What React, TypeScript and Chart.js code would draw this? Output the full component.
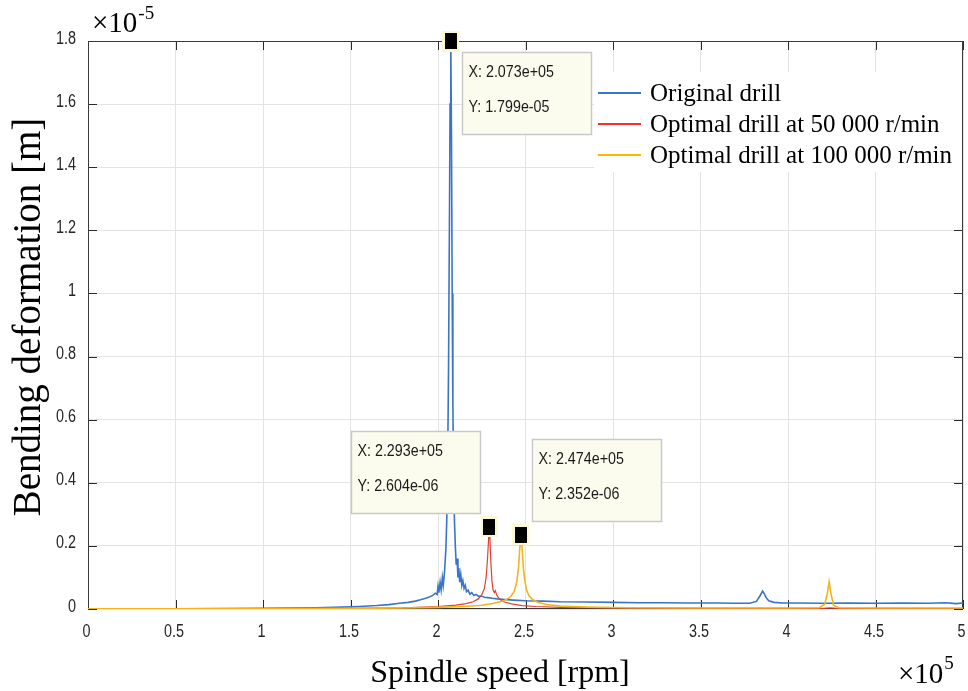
import React, { useEffect, useRef } from "react";
import { Chart, registerables } from "chart.js";

Chart.register(...registerables);

// x in units of 1e5 rpm, y in units of 1e-5 m
const originalX = [0, 0.5, 1.0, 1.15, 1.3, 1.45, 1.55, 1.65, 1.72, 1.78, 1.83, 1.87, 1.9, 1.93, 1.95, 1.97, 1.985, 1.995, 2.0, 2.005, 2.012, 2.018, 2.025, 2.03, 2.037, 2.045, 2.05, 2.055, 2.06, 2.065, 2.069, 2.073, 2.077, 2.081, 2.085, 2.089, 2.094, 2.099, 2.104, 2.109, 2.114, 2.119, 2.124, 2.13, 2.136, 2.142, 2.149, 2.156, 2.163, 2.172, 2.182, 2.193, 2.205, 2.218, 2.232, 2.248, 2.265, 2.285, 2.31, 2.34, 2.38, 2.43, 2.5, 2.6, 2.7, 2.85, 3.0, 3.15, 3.3, 3.45, 3.6, 3.7, 3.78, 3.82, 3.84, 3.855, 3.865, 3.875, 3.89, 3.92, 3.97, 4.05, 4.2, 4.35, 4.5, 4.65, 4.8, 4.9, 4.96, 5.0];
const originalY = [0.0005, 0.001, 0.002, 0.003, 0.004, 0.006, 0.008, 0.011, 0.014, 0.018, 0.021, 0.025, 0.029, 0.034, 0.038, 0.043, 0.05, 0.046, 0.072, 0.052, 0.085, 0.06, 0.1, 0.075, 0.115, 0.19, 0.28, 0.45, 0.75, 1.2, 1.6, 1.799, 1.5, 1.0, 0.65, 0.42, 0.28, 0.2, 0.14, 0.16, 0.1, 0.13, 0.085, 0.11, 0.075, 0.09, 0.065, 0.075, 0.055, 0.06, 0.047, 0.052, 0.043, 0.046, 0.04, 0.041, 0.037, 0.036, 0.034, 0.032, 0.03, 0.028, 0.026, 0.025, 0.023, 0.022, 0.021, 0.02, 0.02, 0.019, 0.019, 0.018, 0.018, 0.024, 0.042, 0.057, 0.048, 0.036, 0.026, 0.021, 0.019, 0.019, 0.018, 0.019, 0.018, 0.019, 0.018, 0.02, 0.017, 0.019];

const opt50X = [0, 0.5, 1.0, 1.5, 1.8, 2.0, 2.1, 2.16, 2.2, 2.23, 2.25, 2.265, 2.275, 2.283, 2.289, 2.293, 2.297, 2.302, 2.308, 2.315, 2.322, 2.328, 2.335, 2.345, 2.36, 2.38, 2.42, 2.48, 2.56, 2.7, 2.9, 3.2, 3.6, 4.0, 4.2, 4.24, 4.28, 4.6, 5.0];
const opt50Y = [0.0002, 0.0004, 0.0008, 0.002, 0.004, 0.008, 0.012, 0.017, 0.023, 0.032, 0.045, 0.065, 0.1, 0.16, 0.22, 0.2604, 0.22, 0.15, 0.09, 0.06, 0.052, 0.058, 0.045, 0.036, 0.028, 0.022, 0.016, 0.011, 0.008, 0.005, 0.004, 0.003, 0.002, 0.002, 0.002, 0.004, 0.002, 0.002, 0.001];

const opt100X = [0, 0.5, 1.0, 1.5, 1.8, 2.0, 2.15, 2.25, 2.32, 2.37, 2.41, 2.435, 2.45, 2.46, 2.467, 2.474, 2.481, 2.488, 2.496, 2.506, 2.52, 2.54, 2.57, 2.62, 2.7, 2.85, 3.1, 3.5, 4.0, 4.18, 4.21, 4.225, 4.235, 4.245, 4.26, 4.29, 4.5, 5.0];
const opt100Y = [0.0006, 0.0008, 0.001, 0.002, 0.003, 0.005, 0.008, 0.012, 0.018, 0.025, 0.036, 0.055, 0.085, 0.13, 0.19, 0.2352, 0.19, 0.13, 0.09, 0.06, 0.042, 0.03, 0.021, 0.014, 0.009, 0.006, 0.004, 0.003, 0.003, 0.004, 0.015, 0.05, 0.086, 0.05, 0.012, 0.004, 0.003, 0.003];

const seriesLabels = ["Original drill", "Optimal drill at 50 000 r/min", "Optimal drill at 100 000 r/min"];
const seriesColors = ["#3a74c8", "#e2412f", "#f2b51a"];
const legendColors = ["#3a74c8", "#ff2a2a", "#ffb600"];

const xTicks = [0, 0.5, 1, 1.5, 2, 2.5, 3, 3.5, 4, 4.5, 5];
const yTicks = [0, 0.2, 0.4, 0.6, 0.8, 1, 1.2, 1.4, 1.6, 1.8];

const xTitle = "Spindle speed [rpm]";
const yTitle = "Bending deformation [m]";
const xExponent = "5";
const yExponent = "-5";

const tipX = [2.073, 2.293, 2.474];
const tipY = [1.799, 0.2604, 0.2352];
const tipXText = ["X: 2.073e+05", "X: 2.293e+05", "X: 2.474e+05"];
const tipYText = ["Y: 1.799e-05", "Y: 2.604e-06", "Y: 2.352e-06"];
const tipPlacement = ["down-right", "up-left", "up-right"];

const SERIF = "'Liberation Serif', 'Times New Roman', serif";
const SANS = "'Liberation Sans', Arial, sans-serif";

const fmt = (v: number) => String(Math.round(v * 10) / 10);

// text drawn horizontally condensed (the reference uses a narrow sans)
function narrowText(ctx: CanvasRenderingContext2D, s: string, x: number, y: number, align: "left" | "center" | "right", sx: number) {
  ctx.save();
  ctx.translate(x, y);
  ctx.scale(sx, 1);
  ctx.textAlign = align;
  ctx.fillText(s, 0, 0);
  ctx.restore();
}

const decorPlugin = {
  id: "decor",
  beforeDatasetsDraw(chart: any) {
    const { ctx, chartArea } = chart;
    const { left, right, top, bottom } = chartArea;
    const xs = chart.scales.x;
    const ys = chart.scales.y;
    ctx.save();
    ctx.strokeStyle = "#2b2b2b";
    ctx.lineWidth = 1;
    const tl = 9;
    ctx.beginPath();
    xs.ticks.forEach((t: any) => {
      const px = Math.round(xs.getPixelForValue(t.value)) + 0.5;
      ctx.moveTo(px, bottom);
      ctx.lineTo(px, bottom - tl);
      ctx.moveTo(px, top);
      ctx.lineTo(px, top + tl);
    });
    ys.ticks.forEach((t: any) => {
      const py = Math.round(ys.getPixelForValue(t.value)) + 0.5;
      ctx.moveTo(left, py);
      ctx.lineTo(left + tl, py);
      ctx.moveTo(right, py);
      ctx.lineTo(right - tl, py);
    });
    ctx.stroke();
    ctx.strokeStyle = "#3a3a3a";
    ctx.strokeRect(Math.round(left) + 0.5, Math.round(top) + 0.5, Math.round(right - left) - 1, Math.round(bottom - top) - 1);

    // tick labels
    ctx.fillStyle = "#262626";
    ctx.font = `18px ${SANS}`;
    ctx.textBaseline = "alphabetic";
    xs.ticks.forEach((t: any) => {
      const px = xs.getPixelForValue(t.value);
      narrowText(ctx, fmt(t.value), px - 1.5, bottom + 28, "center", 0.8);
    });
    ys.ticks.forEach((t: any) => {
      const py = ys.getPixelForValue(t.value);
      narrowText(ctx, fmt(t.value), left - 12, py + 2.5, "right", 0.8);
    });
    ctx.restore();
  },
  afterDatasetsDraw(chart: any) {
    const { ctx, chartArea } = chart;
    const { right } = chartArea;
    const xs = chart.scales.x;
    const ys = chart.scales.y;
    ctx.save();

    // legend
    const lgX = 594, lgY = 72, lgW = right - 1 - 594, lgH = 100;
    ctx.fillStyle = "#ffffff";
    ctx.fillRect(lgX, lgY, lgW, lgH);
    ctx.font = `25px ${SERIF}`;
    ctx.textBaseline = "middle";
    ctx.textAlign = "left";
    seriesLabels.forEach((lab, i) => {
      const yy = 93 + i * 31;
      ctx.strokeStyle = legendColors[i];
      ctx.lineWidth = 2;
      ctx.beginPath();
      ctx.moveTo(598, yy);
      ctx.lineTo(641, yy);
      ctx.stroke();
      ctx.fillStyle = "#000000";
      ctx.fillText(lab, 650, yy + 1);
    });

    // datatips
    const bw = 129, bh = 82;
    tipX.forEach((vx, i) => {
      const px = xs.getPixelForValue(vx);
      const py = ys.getPixelForValue(tipY[i]);
      const pl = tipPlacement[i];
      let bx = 0, by = 0;
      if (pl === "down-right") { bx = px + 11; by = py + 11; }
      else if (pl === "up-left") { bx = px - 9 - bw; by = py - 14 - bh; }
      else { bx = px + 11; by = py - 14 - bh; }
      bx = Math.round(bx) + 0.5; by = Math.round(by) + 0.5;
      ctx.fillStyle = "#fcfcee";
      ctx.fillRect(bx, by, bw, bh);
      ctx.strokeStyle = "#c9c9c9";
      ctx.lineWidth = 1.5;
      ctx.strokeRect(bx, by, bw, bh);
      ctx.fillStyle = "#1a1a1a";
      ctx.font = `17px ${SANS}`;
      ctx.textBaseline = "middle";
      narrowText(ctx, tipXText[i], bx + 6, by + 20, "left", 0.84);
      narrowText(ctx, tipYText[i], bx + 6, by + 55, "left", 0.84);
      // marker
      ctx.fillStyle = "#fbf8d2";
      ctx.fillRect(Math.round(px - 8.5), Math.round(py - 10.5), 17, 21);
      ctx.fillStyle = "#000000";
      ctx.fillRect(Math.round(px - 6), Math.round(py - 8), 12, 16);
    });

    // exponents
    ctx.fillStyle = "#000000";
    ctx.textAlign = "left";
    ctx.textBaseline = "alphabetic";
    ctx.font = `29px ${SERIF}`;
    ctx.fillText("\u00d710", 92, 32);
    const w1 = ctx.measureText("\u00d710").width;
    ctx.font = `19px ${SERIF}`;
    ctx.fillText(yExponent, 92 + w1 + 1, 19);

    ctx.font = `29px ${SERIF}`;
    ctx.fillText("\u00d710", 898, 683);
    const w2 = ctx.measureText("\u00d710").width;
    ctx.font = `19px ${SERIF}`;
    ctx.fillText(xExponent, 898 + w2 + 1, 669);

    // axis titles
    ctx.font = `32px ${SERIF}`;
    ctx.textAlign = "center";
    ctx.textBaseline = "alphabetic";
    ctx.fillText(xTitle, 500, 682);
    ctx.save();
    ctx.translate(40, 317);
    ctx.rotate(-Math.PI / 2);
    ctx.font = `39px ${SERIF}`;
    ctx.fillText(yTitle, 0, 0);
    ctx.restore();

    ctx.restore();
  },
};

export default function App() {
  const ref = useRef<HTMLCanvasElement>(null);
  useEffect(() => {
    document.body.style.margin = "0";
    const mk = (xa: number[], ya: number[]) => xa.map((x, i) => ({ x, y: ya[i] }));
    const chart = new Chart(ref.current as HTMLCanvasElement, {
      type: "line",
      data: {
        datasets: [
          { label: seriesLabels[0], data: mk(originalX, originalY), borderColor: seriesColors[0], borderWidth: 1.6, pointRadius: 0, tension: 0, order: 3 },
          { label: seriesLabels[1], data: mk(opt50X, opt50Y), borderColor: seriesColors[1], borderWidth: 1.2, pointRadius: 0, tension: 0, order: 2 },
          { label: seriesLabels[2], data: mk(opt100X, opt100Y), borderColor: seriesColors[2], borderWidth: 1.6, pointRadius: 0, tension: 0, order: 1 },
        ],
      },
      options: {
        animation: false,
        responsive: false,
        devicePixelRatio: 1,
        layout: { padding: { top: 41, right: 5, left: 0, bottom: 0 } },
        plugins: { legend: { display: false }, tooltip: { enabled: false } },
        scales: {
          x: {
            type: "linear",
            min: 0,
            max: 5,
            afterBuildTicks: (s: any) => { s.ticks = xTicks.map((v) => ({ value: v })); },
            afterFit: (s: any) => { s.height = 82; s.paddingLeft = 0; s.paddingRight = 0; },
            grid: { color: "#e3e3e3", drawTicks: false, lineWidth: 1 },
            border: { display: false },
            ticks: { display: false },
          },
          y: {
            type: "linear",
            min: 0,
            max: 1.8,
            afterBuildTicks: (s: any) => { s.ticks = yTicks.map((v) => ({ value: v })); },
            afterFit: (s: any) => { s.width = 88; s.paddingTop = 0; s.paddingBottom = 0; },
            grid: { color: "#e3e3e3", drawTicks: false, lineWidth: 1 },
            border: { display: false },
            ticks: { display: false },
          },
        },
      },
      plugins: [decorPlugin],
    } as any);
    return () => chart.destroy();
  }, []);
  return (
    <div style={{ position: "fixed", left: 0, top: 0, width: 968, height: 691, background: "#ffffff" }}>
      <canvas ref={ref} width={968} height={691} style={{ width: 968, height: 691 }} />
    </div>
  );
}
